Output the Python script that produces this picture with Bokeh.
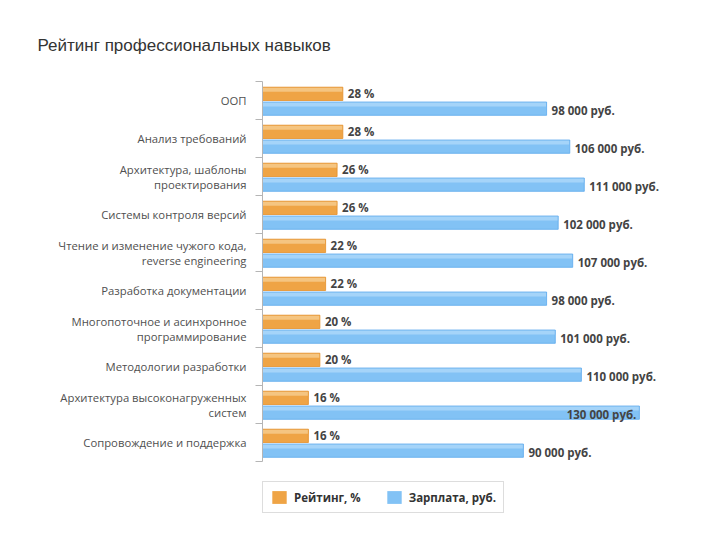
from bokeh.plotting import figure
from bokeh.models import (Range1d, LinearAxis, FixedTicker,
                          ColumnDataSource, Legend, LegendItem)
from bokeh.transform import dodge
from bokeh.core.properties import value
from bokeh.embed import file_html
from bokeh.resources import INLINE

categories = [
    "ООП",
    "Анализ требований",
    "Архитектура, шаблоны\nпроектирования",
    "Системы контроля версий",
    "Чтение и изменение чужого кода,\nreverse engineering",
    "Разработка документации",
    "Многопоточное и асинхронное\nпрограммирование",
    "Методологии разработки",
    "Архитектура высоконагруженных\nсистем",
    "Сопровождение и поддержка",
]
rating = [28, 28, 26, 26, 22, 22, 20, 20, 16, 16]
salary = [98000, 106000, 111000, 102000, 107000, 98000, 101000, 110000, 130000, 90000]

title_text = "Рейтинг профессиональных навыков"
legend_rating = "Рейтинг, %"
legend_salary = "Зарплата, руб."

ORANGE = "#EFA445"
ORANGE_LIGHT = "#F5C581"
ORANGE_EDGE = "#E38F2A"
BLUE = "#82C2F5"
BLUE_LIGHT = "#A5D4F9"
BLUE_EDGE = "#5CA8EC"

n = len(categories)
centers = [n - i - 0.5 for i in range(n)]   # first category on top
max_sal = max(salary)
src = ColumnDataSource(dict(
    ypos=centers,
    rating=rating,
    salary=salary,
    rating_txt=[f"{r} %" for r in rating],
    salary_txt=[f"{s:,}".replace(",", " ") + " руб." for s in salary],
    sal_align=["right" if s == max_sal else "left" for s in salary],
    sal_off=[-3 if s == max_sal else 5 for s in salary],
))

ROW_PX = 38.0          # pixel height of one category row
EXTRA_PX = 69.0        # room below the rows, kept inside the frame for the legend
BAR_H = 0.35
OR_OFF = 0.175
BL_OFF = -0.215
STRIP_H = 0.12

p = figure(width=704, height=536, output_backend="svg", toolbar_location=None,
           y_range=Range1d(-EXTRA_PX / ROW_PX, n),
           x_range=Range1d(0, 143500),
           y_axis_location=None, x_axis_location=None,
           min_border_left=262, min_border_right=26, min_border_top=81, min_border_bottom=6)
p.extra_x_ranges = {"pct": Range1d(0, 145)}
p.xgrid.visible = False
p.ygrid.visible = False
p.outline_line_color = None
p.background_fill_color = "white"
p.border_fill_color = "white"

p.title.text = title_text
p.title.text_font = "Liberation Sans"
p.title.text_font_size = "17px"
p.title.text_font_style = "normal"
p.title.text_color = "#333333"
p.title.align = "left"
p.title.offset = -225
p.title.standoff = 54

yax = LinearAxis(ticker=FixedTicker(ticks=centers, minor_ticks=list(range(n + 1))), bounds=(0, n))
yax.major_label_overrides = {c: lab for c, lab in zip(centers, categories)}
yax.axis_line_color = "#B5B5B5"
yax.minor_tick_line_color = "#B5B5B5"
yax.minor_tick_out = 7
yax.minor_tick_in = 0
yax.major_tick_line_color = None
yax.major_tick_out = 0
yax.major_tick_in = 0
yax.major_label_text_font = "Open Sans"
yax.major_label_text_font_size = "11.3px"
yax.major_label_text_color = "#505050"
yax.major_label_text_line_height = 1.0
yax.major_label_standoff = 9
p.add_layout(yax, "left")

# rating bars (base, light top strip, outline)
r1 = p.hbar(y=dodge("ypos", OR_OFF), right="rating", left=0, height=BAR_H,
            source=src, x_range_name="pct", fill_color=ORANGE, line_color=None)
p.hbar(y=dodge("ypos", OR_OFF + BAR_H / 2 - STRIP_H / 2), right="rating", left=0, height=STRIP_H,
       source=src, x_range_name="pct", fill_color=ORANGE_LIGHT, line_color=None)
p.hbar(y=dodge("ypos", OR_OFF), right="rating", left=0, height=BAR_H,
       source=src, x_range_name="pct", fill_color=None, line_color=ORANGE_EDGE, line_width=0.8)

# salary bars
r2 = p.hbar(y=dodge("ypos", BL_OFF), right="salary", left=0, height=BAR_H,
            source=src, fill_color=BLUE, line_color=None)
p.hbar(y=dodge("ypos", BL_OFF + BAR_H / 2 - STRIP_H / 2), right="salary", left=0, height=STRIP_H,
       source=src, fill_color=BLUE_LIGHT, line_color=None)
p.hbar(y=dodge("ypos", BL_OFF), right="salary", left=0, height=BAR_H,
       source=src, fill_color=None, line_color=BLUE_EDGE, line_width=0.8)

p.text(x="rating", y=dodge("ypos", OR_OFF), text="rating_txt", source=src,
       x_range_name="pct", x_offset=5, text_baseline="middle", text_align="left",
       text_font=value("Open Sans"), text_font_style="bold", text_font_size="11.5px",
       text_color="#444444")
p.text(x="salary", y=dodge("ypos", BL_OFF), text="salary_txt", source=src,
       x_offset="sal_off", y_offset=2, text_baseline="middle", text_align="sal_align",
       text_font=value("Open Sans"), text_font_style="bold", text_font_size="11.5px",
       text_color="#444444")

legend = Legend(items=[LegendItem(label=legend_rating, renderers=[r1]),
                       LegendItem(label=legend_salary, renderers=[r2])],
                orientation="horizontal", location=(0, 17))
legend.border_line_color = "#BBBBBB"
legend.border_line_width = 1
legend.background_fill_color = "white"
legend.label_text_font = "Open Sans"
legend.label_text_font_style = "bold"
legend.label_text_font_size = "11.5px"
legend.label_text_color = "#333333"
legend.glyph_width = 18
legend.glyph_height = 16
legend.label_height = 16
legend.label_standoff = 6
legend.spacing = 24
legend.padding = 7
legend.margin = 0
p.add_layout(legend, "center")

open("out.html", "w").write(file_html(p, INLINE))
